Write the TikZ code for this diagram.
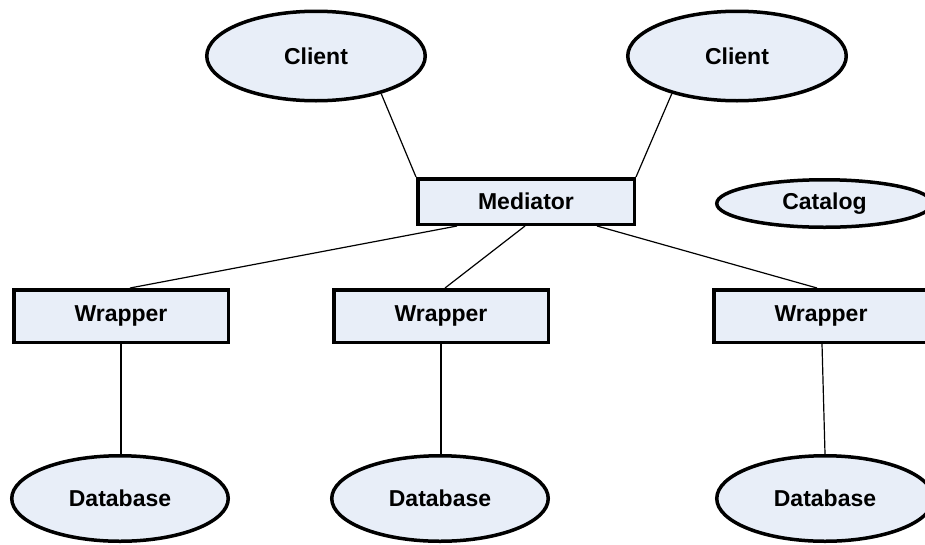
\documentclass[tikz,border=0pt]{standalone}
\usepackage{fontspec}
\setmainfont{Liberation Sans}
\usetikzlibrary{shapes.geometric}
\definecolor{boxfill}{RGB}{232,238,248}
\tikzset{
  base/.style={draw=black, line width=3.5pt, fill=boxfill, inner sep=0pt,
    font=\fontsize{23}{27}\selectfont\bfseries},
  oval/.style={base, ellipse},
  rectbox/.style={base, rectangle},
  link/.style={draw=black, line width=1.2pt}
}
\begin{document}
\begin{tikzpicture}[x=1pt,y=-1pt]
\clip (0,0) rectangle (925,544);
\fill[white] (0,0) rectangle (925,544);
% links first (behind shapes)
\node[oval, minimum width=218.5pt, minimum height=89.5pt] (c1) at (316,56) {Client};
\node[oval, minimum width=218.5pt, minimum height=89.5pt] (c2) at (737,56) {Client};
\node[rectbox, minimum width=216.5pt, minimum height=45.5pt] (m) at (526,201.5) {Mediator};
\node[oval, minimum width=215.5pt, minimum height=47.5pt] (cat) at (824.5,203.5) {Catalog};
\node[rectbox, minimum width=214.5pt, minimum height=52.5pt] (w1) at (121,316) {Wrapper};
\node[rectbox, minimum width=214.5pt, minimum height=52.5pt] (w2) at (441,316) {Wrapper};
\node[rectbox, minimum width=214.5pt, minimum height=52.5pt] (w3) at (821,316) {Wrapper};
\node[oval, minimum width=216.5pt, minimum height=85.5pt] (d1) at (120,498.5) {Database};
\node[oval, minimum width=216.5pt, minimum height=85.5pt] (d2) at (440,498.5) {Database};
\node[oval, minimum width=216.5pt, minimum height=85.5pt] (d3) at (825,498.5) {Database};
\draw[link] (c1.-30) -- (m.north west);
\draw[link] (c2.-150) -- (m.north east);
\draw[link] ([xshift=-69pt]m.south) -- ([xshift=9pt]w1.north);
\draw[link] ([xshift=-1pt]m.south) -- ([xshift=4pt]w2.north);
\draw[link] ([xshift=71pt]m.south) -- ([xshift=-4pt]w3.north);
\draw[link] (w1.south) -- (w1.south |- d1.north);
\draw[link] (w2.south) -- (w2.south |- d2.north);
\draw[link] ([xshift=1pt]w3.south) -- (d3.north);
\end{tikzpicture}
\end{document}
